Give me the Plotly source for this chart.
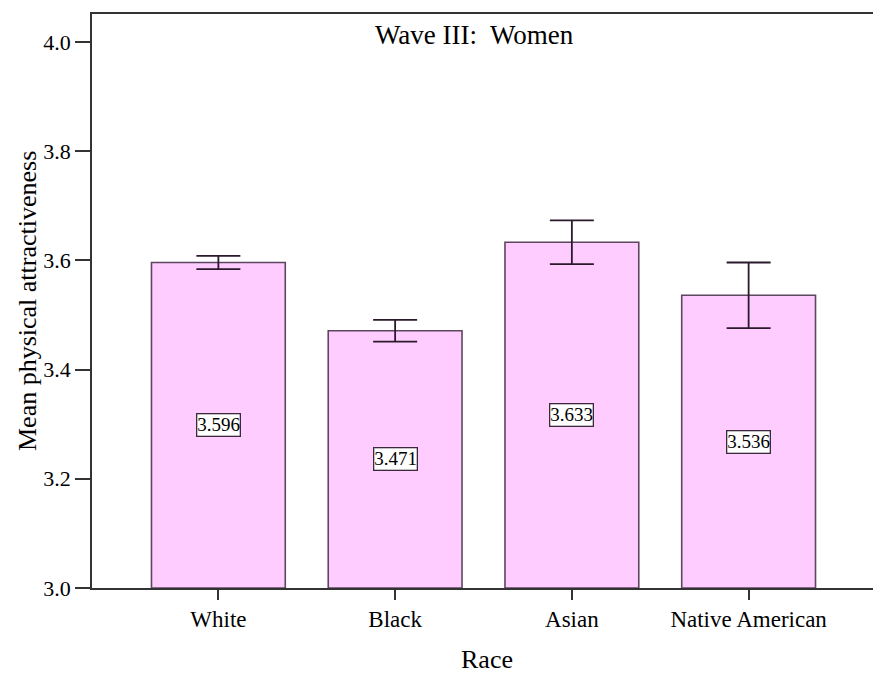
import plotly.graph_objects as go

races = ["White", "Black", "Asian", "Native American"]
means = [3.596, 3.471, 3.633, 3.536]
err = [0.012, 0.020, 0.040, 0.060]
yticks = [3.0, 3.2, 3.4, 3.6, 3.8, 4.0]
base = 3.0

FONT = "Liberation Serif"
x = list(range(len(races)))

fig = go.Figure()
fig.add_trace(go.Bar(
    x=x, y=[m - base for m in means], base=base, width=0.757,
    marker=dict(color="#ffccff", line=dict(color="#5e4560", width=1.6)),
    error_y=dict(type="data", array=err, visible=True, color="#2b1a2b",
                 thickness=1.8, width=22),
    hoverinfo="skip",
))

for xi, m in zip(x, means):
    fig.add_annotation(x=xi, y=(base + m) / 2, text=f"{m:.3f}", showarrow=False,
                       font=dict(family=FONT, size=19, color="black"),
                       bgcolor="white", bordercolor="#3a2a3a", borderwidth=1.3,
                       borderpad=0)

fig.add_annotation(x=0.4885, y=0.9635, xref="paper", yref="paper",
                   xanchor="center", yanchor="middle",
                   text="Wave III:  Women", showarrow=False,
                   font=dict(family=FONT, size=27, color="black"))
fig.add_annotation(x=-0.083, y=0.5, xref="paper", yref="paper",
                   xanchor="center", yanchor="middle", textangle=-90,
                   text="Mean physical attractiveness", showarrow=False,
                   font=dict(family=FONT, size=26, color="black"))
fig.add_annotation(x=0.504, y=-0.125, xref="paper", yref="paper",
                   xanchor="center", yanchor="middle",
                   text="Race", showarrow=False,
                   font=dict(family=FONT, size=26, color="black"))

fig.update_layout(
    width=873, height=669,
    margin=dict(l=84, r=5, t=4, b=89),
    paper_bgcolor="white", plot_bgcolor="white",
    showlegend=False,
    font=dict(family=FONT, color="black"),
    xaxis=dict(range=[-0.715, 3.715], tickmode="array", tickvals=x, ticktext=races,
               ticks="outside", ticklen=10, tickwidth=1.6, tickcolor="#333",
               showline=True, linecolor="#333", linewidth=1.6, mirror=True,
               showgrid=False, zeroline=False,
               tickfont=dict(family=FONT, size=23)),
    yaxis=dict(range=[3.0, 4.051], tickmode="array", tickvals=yticks,
               ticktext=[f"{t:.1f}" for t in yticks],
               ticks="outside", ticklen=15, tickwidth=1.6, tickcolor="#333",
               showline=True, linecolor="#333", linewidth=1.6, mirror=True,
               showgrid=False, zeroline=False,
               tickfont=dict(family=FONT, size=22)),
)

fig.write_html("out.html")
